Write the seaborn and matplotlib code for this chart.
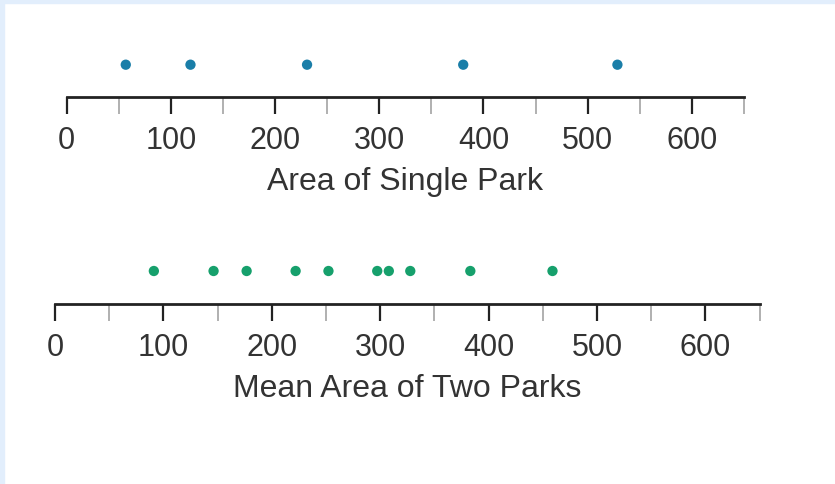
import matplotlib
matplotlib.use("Agg")
import matplotlib.pyplot as plt
from matplotlib.patches import Rectangle
from matplotlib.ticker import MultipleLocator
import seaborn as sns

# values
single_park = [56.7, 118.8, 230.7, 380.6, 528.6]
mean_two_parks = [91.2, 146.3, 176.8, 222.0, 252.3, 297.3, 308.0, 327.8, 383.2, 459.0]
top_label = "Area of Single Park"
bottom_label = "Mean Area of Two Parks"
major_ticks = [0, 100, 200, 300, 400, 500, 600]

sns.set_style("white")
plt.rcParams['font.family'] = ['Liberation Sans', 'DejaVu Sans']

W, H = 835, 485
fig = plt.figure(figsize=(W / 100, H / 100), dpi=100)

# light blue frame on top and left edge
fig.patches.append(Rectangle((0, 0), 4 / W, 1, transform=fig.transFigure,
                             color="#e2eefc", zorder=0))
fig.patches.append(Rectangle((0, 1 - 4 / H), 1, 4 / H, transform=fig.transFigure,
                             color="#e2eefc", zorder=0))


def number_line(rect, values, color, label):
    ax = fig.add_axes(rect)
    sns.scatterplot(x=values, y=[0.5] * len(values), ax=ax, color=color,
                    s=55, edgecolor="none", clip_on=False)
    ax.set_xlim(0, 650)
    ax.set_ylim(0, 1)
    for side in ["top", "left", "right"]:
        ax.spines[side].set_visible(False)
    ax.spines["bottom"].set_linewidth(2.0)
    ax.spines["bottom"].set_color("#222222")
    ax.set_yticks([])
    ax.set_xticks(major_ticks)
    ax.xaxis.set_minor_locator(MultipleLocator(50))
    ax.tick_params(axis="x", which="major", direction="out", length=12,
                   width=1.6, color="#222222", labelsize=22, pad=8,
                   labelcolor="#333333", bottom=True)
    ax.tick_params(axis="x", which="minor", direction="out", length=12,
                   width=1.3, color="#aaaaaa", bottom=True)
    ax.set_xlabel(label, fontsize=23, color="#333333", labelpad=8)
    ax.set_facecolor("none")
    return ax


px = lambda v: v / W
py = lambda v: v / H

# top number line: spine at y=98, dots at y=66, x 0->67px, 650->744px
number_line([px(66.7), 1 - py(98.3), px(743.9 - 66.7), py(65.2)],
            single_park, "#1a7ea8", top_label)
# bottom number line: spine at y=305, dots at y=272, x 0->55px, 650->759.5px
number_line([px(55), 1 - py(305), px(759.5 - 55), py(66)],
            mean_two_parks, "#16a06c", bottom_label)

fig.savefig("out.png", dpi=100, facecolor="white")
